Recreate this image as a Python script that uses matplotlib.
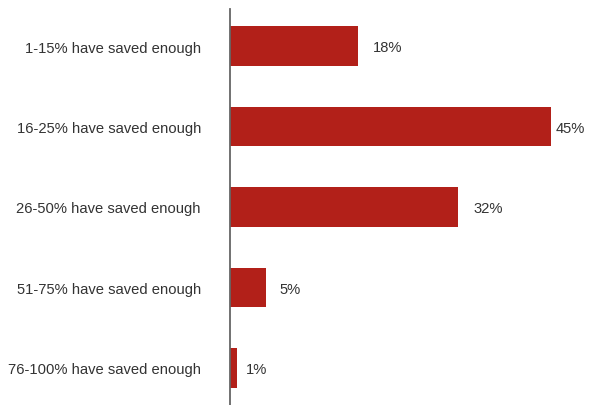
import matplotlib
matplotlib.use("Agg")
import matplotlib.pyplot as plt

categories = ["1-15% have saved enough", "16-25% have saved enough", "26-50% have saved enough",
              "51-75% have saved enough", "76-100% have saved enough"]
values = [18, 45, 32, 5, 1]
value_labels = ["18%", "45%", "32%", "5%", "1%"]

label_offsets_px = [14, 5, 15, 14, 9]

plt.rcParams['font.family'] = ['Liberation Sans', 'DejaVu Sans']

fig = plt.figure(figsize=(5.96, 4.06), dpi=100)
W, H = 596, 406
ax = fig.add_axes([230 / W, 0, (551 - 230) / W, (406 - 10) / H])

pos = list(range(len(categories)))
ax.barh(pos, values, height=0.49, color="#B22019")
ax.set_xlim(0, 45)
ax.set_ylim(4.46, -0.46)

fs = 10.6
for i, (v, lab) in enumerate(zip(values, value_labels)):
    ax.annotate(lab, xy=(v, i), xytext=(label_offsets_px[i] * 72 / 100, -1), textcoords="offset points",
                ha="left", va="center", fontsize=fs, color="#333333", annotation_clip=False)

ax.set_yticks(pos)
ax.set_yticklabels(categories, fontsize=fs, color="#333333")
ax.tick_params(axis="y", length=0, pad=29 * 72 / 100)
ax.set_xticks([])
for s in ["top", "right", "bottom"]:
    ax.spines[s].set_visible(False)
ax.spines["left"].set_color("#666666")
ax.spines["left"].set_linewidth(1.3)

fig.savefig("out.png", dpi=100)
